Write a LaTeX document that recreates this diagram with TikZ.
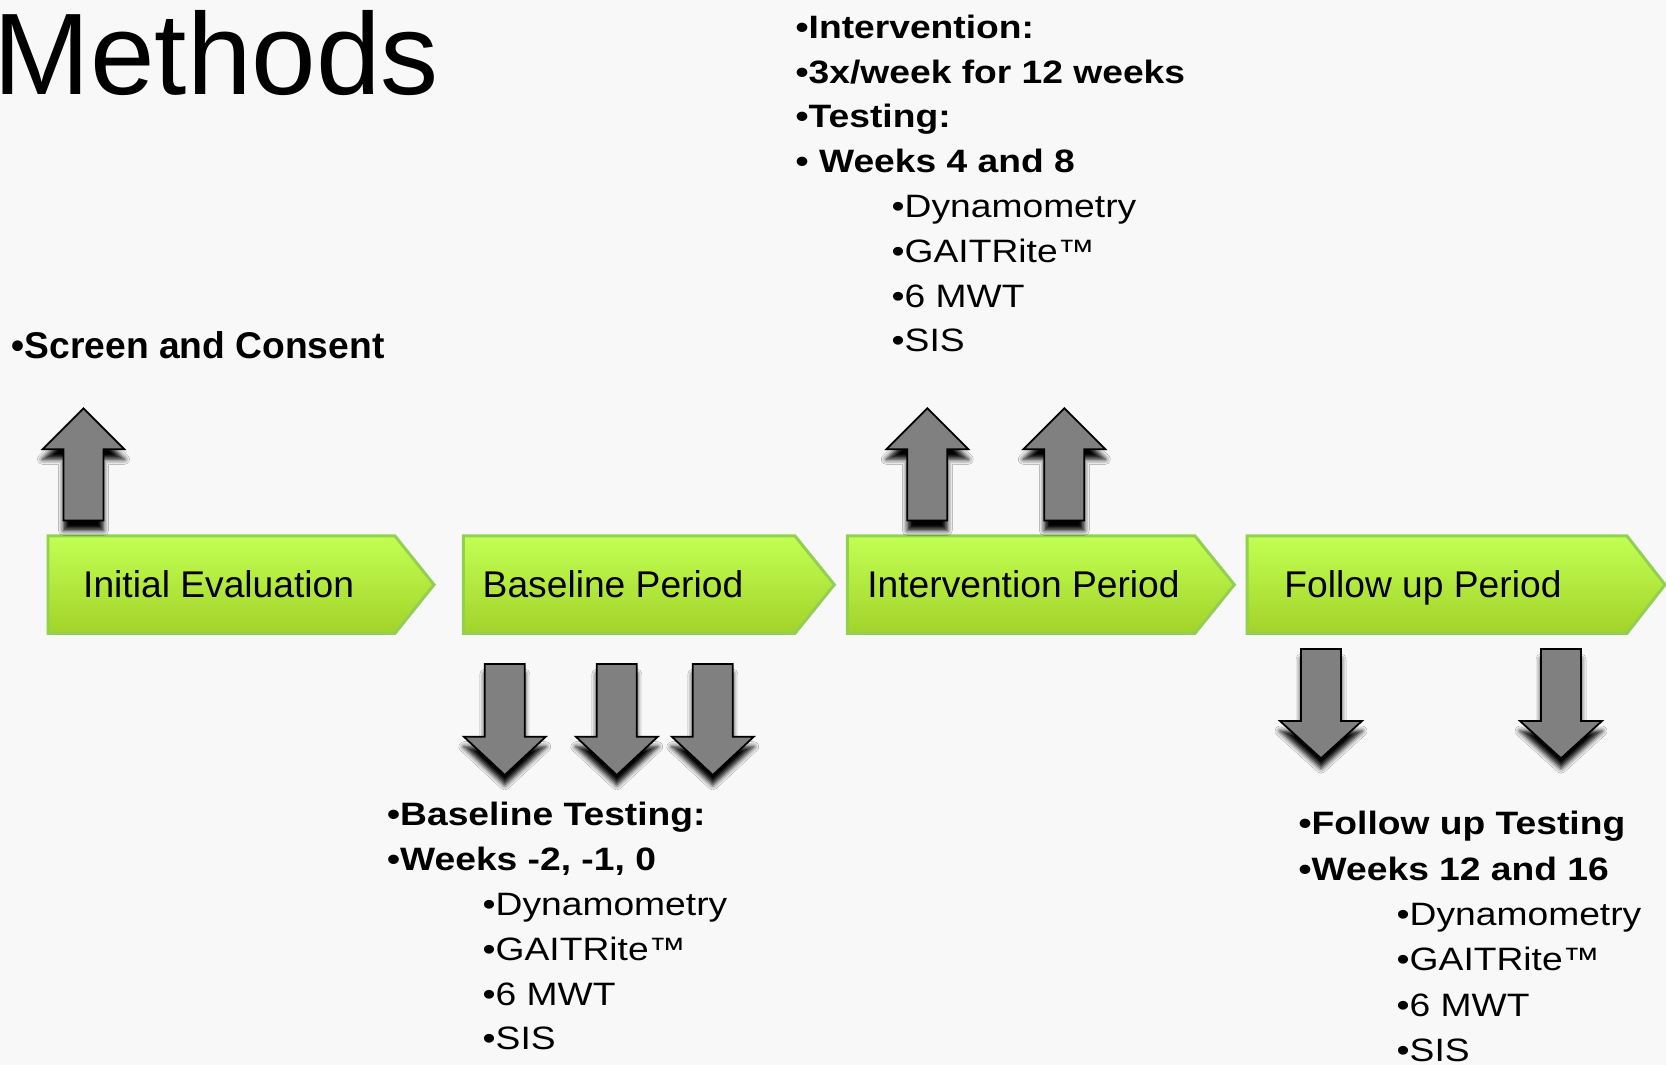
\documentclass[tikz,border=0pt]{standalone}
\usepackage{fontspec}
\setmainfont{Liberation Sans}
\usepackage{graphicx}
\usetikzlibrary{shadows.blur}
\definecolor{chevtop}{RGB}{194,255,82}
\definecolor{chevbot}{RGB}{163,211,42}
\definecolor{chevline}{RGB}{146,208,80}
\definecolor{arrgray}{RGB}{128,128,128}
\definecolor{slidebg}{RGB}{248,248,248}
\newcommand{\slidefont}{\fontsize{10.58}{12.7}\selectfont}
\newcommand{\squash}[1]{\scalebox{1}[0.87]{#1}}
\tikzset{
  chevron/.style={line width=0.85pt,line join=miter,draw=chevline,top color=chevtop,bottom color=chevbot},
  bigarrow/.style={line width=0.5pt,line join=miter,draw=black,fill=arrgray,
    blur shadow={shadow xshift=0pt,shadow yshift=-0.1cm,shadow blur radius=0.05cm,shadow opacity=100}},
  chevtext/.style={anchor=base west,inner sep=0pt,font=\slidefont},
  boldline/.style={anchor=base west,inner sep=0pt,font=\slidefont\bfseries},
  subline/.style={anchor=base west,inner sep=0pt,font=\slidefont}
}
\begin{document}
\begin{tikzpicture}[line cap=round,line join=round,x=0.01cm,y=-0.01cm]
				\useasboundingbox (0,0) rectangle (1666,1065);
				\fill [slidebg] (0,0) rectangle (1666,1065);
				% title
				\node [anchor=base west,inner sep=0pt,font=\fontsize{33}{40}\selectfont] (title) at (-7,95) {Methods};
				\node [boldline] (screen) at (11,358.3) {•Screen and Consent};
				% chevrons
				\draw [chevron] (48,536)-- (395,536)-- (434,584.7)-- (395,633.3)-- (48,633.3)-- cycle;
				\draw [chevron] (463.3,536)-- (795,536)-- (834.3,584.7)-- (795,633.3)-- (463.3,633.3)-- cycle;
				\draw [chevron] (847.3,536)-- (1195,536)-- (1234.3,584.7)-- (1195,633.3)-- (847.3,633.3)-- cycle;
				\draw [chevron] (1247,536)-- (1627,536)-- (1665,584.7)-- (1627,633.3)-- (1247,633.3)-- cycle;
				\node [chevtext] (initial) at (82.5,598) {Initial Evaluation};
				\node [chevtext] (baseline) at (482,598) {Baseline Period};
				\node [chevtext] (intervention) at (866.6,598) {Intervention Period};
				\node [chevtext] (followup) at (1283.7,598) {Follow up Period};
				% up arrows
				\draw [bigarrow] (63.5,520.5)-- (63.5,449.3)-- (42.5,449.3)-- (83.5,408.3)-- (124.5,449.3)-- (103.5,449.3)-- (103.5,520.5)-- cycle;
				\draw [bigarrow] (907.3,520.5)-- (907.3,449.3)-- (886.3,449.3)-- (927.3,408.3)-- (968.3,449.3)-- (947.3,449.3)-- (947.3,520.5)-- cycle;
				\draw [bigarrow] (1044.3,520.5)-- (1044.3,449.3)-- (1023.3,449.3)-- (1064.3,408.3)-- (1105.3,449.3)-- (1084.3,449.3)-- (1084.3,520.5)-- cycle;
				% down arrows, baseline
				\draw [bigarrow] (484.8,664)-- (484.8,736.7)-- (463.8,736.7)-- (504.8,775)-- (545.8,736.7)-- (524.8,736.7)-- (524.8,664)-- cycle;
				\draw [bigarrow] (596.8,664)-- (596.8,736.7)-- (575.8,736.7)-- (616.8,775)-- (657.8,736.7)-- (636.8,736.7)-- (636.8,664)-- cycle;
				\draw [bigarrow] (692.8,664)-- (692.8,736.7)-- (671.8,736.7)-- (712.8,775)-- (753.8,736.7)-- (732.8,736.7)-- (732.8,664)-- cycle;
				% down arrows, follow up
				\draw [bigarrow] (1301,649)-- (1301,721)-- (1280,721)-- (1321,758.3)-- (1362,721)-- (1341,721)-- (1341,649)-- cycle;
				\draw [bigarrow] (1541,649)-- (1541,721)-- (1520,721)-- (1561,758.3)-- (1602,721)-- (1581,721)-- (1581,649)-- cycle;
				% intervention notes
				\node [boldline] (int1) at (795,38.3) {\squash{•Intervention:}};
				\node [boldline] (int2) at (795,83.1) {\squash{•3x/week for 12 weeks}};
				\node [boldline] (int3) at (795,127.9) {\squash{•Testing:}};
				\node [boldline] (int4) at (795,172.7) {\squash{• Weeks 4 and 8}};
				\node [subline] (int5) at (891,217.5) {\squash{•Dynamometry}};
				\node [subline] (int6) at (891,262.3) {\squash{•GAITRite™}};
				\node [subline] (int7) at (891,307.1) {\squash{•6 MWT}};
				\node [subline] (int8) at (891,351.9) {\squash{•SIS}};
				% baseline notes
				\node [boldline] (base1) at (386.5,826) {\squash{•Baseline Testing:}};
				\node [boldline] (base2) at (386.5,870.8) {\squash{•Weeks -2, -1, 0}};
				\node [subline] (base3) at (482,915.6) {\squash{•Dynamometry}};
				\node [subline] (base4) at (482,960.4) {\squash{•GAITRite™}};
				\node [subline] (base5) at (482,1005.2) {\squash{•6 MWT}};
				\node [subline] (base6) at (482,1050) {\squash{•SIS}};
				% follow up notes
				\node [boldline] (fol1) at (1298,835) {\squash{•Follow up Testing}};
				\node [boldline] (fol2) at (1298,880.3) {\squash{•Weeks 12 and 16}};
				\node [subline] (fol3) at (1396,925.6) {\squash{•Dynamometry}};
				\node [subline] (fol4) at (1396,970.9) {\squash{•GAITRite™}};
				\node [subline] (fol5) at (1396,1016.2) {\squash{•6 MWT}};
				\node [subline] (fol6) at (1396,1061.5) {\squash{•SIS}};
\end{tikzpicture}
\end{document}
